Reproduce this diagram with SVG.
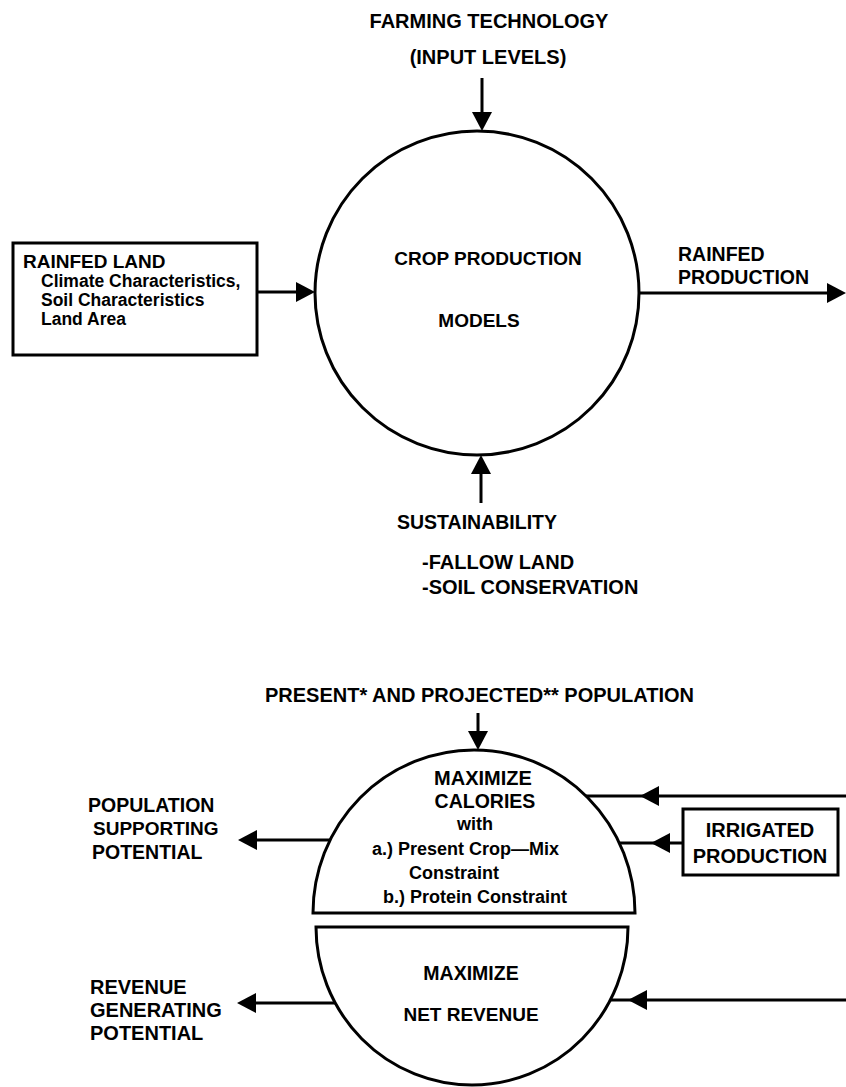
<svg xmlns="http://www.w3.org/2000/svg" xmlns:xlink="http://www.w3.org/1999/xlink" width="846" height="1087" viewBox="0 0 846 1087">
<style>
  text { font-family: "Liberation Sans", Arial, sans-serif; font-weight: bold; fill: #000; }
  .shape { fill: #fff; stroke: #000; stroke-width: 3; }
  .ln { stroke: #000; stroke-width: 3; fill: none; }
  .c { text-anchor: middle; }
</style>
<defs>
  <path id="ah" d="M0,0 L-19,-10 L-19,10 Z" fill="#000"/>
</defs>
<rect width="846" height="1087" fill="#fff"/>

<g id="farming-technology">
  <text x="489" y="28" font-size="20" class="c">FARMING TECHNOLOGY</text>
  <text x="488" y="64" font-size="20" class="c">(INPUT LEVELS)</text>
</g>

<g id="crop-production-models">
  <circle cx="477" cy="293" r="162" class="shape"/>
  <text x="488" y="265" font-size="19" class="c">CROP PRODUCTION</text>
  <text x="479" y="327" font-size="19" class="c">MODELS</text>
</g>

<g id="rainfed-land">
  <rect x="13" y="243" width="244" height="112" class="shape"/>
  <text x="23" y="268" font-size="19">RAINFED LAND</text>
  <text x="41" y="287" font-size="17.5">Climate Characteristics,</text>
  <text x="41" y="306" font-size="17.5">Soil Characteristics</text>
  <text x="41" y="325" font-size="17.5">Land Area</text>
</g>

<g id="rainfed-production">
  <text x="678" y="261" font-size="19.5">RAINFED</text>
  <text x="678" y="284" font-size="19.5">PRODUCTION</text>
</g>

<g id="sustainability">
  <text x="397" y="529" font-size="19.5">SUSTAINABILITY</text>
  <text x="422" y="569" font-size="20">-FALLOW LAND</text>
  <text x="422" y="594" font-size="20">-SOIL CONSERVATION</text>
</g>

<g id="population">
  <text x="265" y="702" font-size="20">PRESENT* AND PROJECTED** POPULATION</text>
</g>

<g id="maximize-calories">
  <path d="M313,913 A161,163 0 0 1 635,913 Z" class="shape"/>
  <text x="483" y="785" font-size="20" class="c">MAXIMIZE</text>
  <text x="485" y="808" font-size="19.5" class="c">CALORIES</text>
  <text x="475" y="830" font-size="18" class="c">with</text>
  <text x="372" y="855" font-size="18">a.) Present Crop—Mix</text>
  <text x="409" y="879" font-size="18">Constraint</text>
  <text x="383" y="903" font-size="18">b.) Protein Constraint</text>
</g>

<g id="maximize-net-revenue">
  <path d="M316,927 L628,927 A156,158 0 0 1 316,927 Z" class="shape"/>
  <text x="471" y="980" font-size="19.5" class="c">MAXIMIZE</text>
  <text x="471" y="1021" font-size="19" class="c">NET REVENUE</text>
</g>

<g id="population-supporting-potential">
  <text x="88" y="812" font-size="19.5">POPULATION</text>
  <text x="93" y="835" font-size="19">SUPPORTING</text>
  <text x="92" y="859" font-size="19.5">POTENTIAL</text>
</g>

<g id="revenue-generating-potential">
  <text x="90" y="994" font-size="20">REVENUE</text>
  <text x="90" y="1017" font-size="20">GENERATING</text>
  <text x="90" y="1040" font-size="20">POTENTIAL</text>
</g>

<g id="irrigated-production">
  <rect x="683" y="809" width="155" height="66" class="shape"/>
  <text x="760" y="837" font-size="20" class="c">IRRIGATED</text>
  <text x="760" y="863" font-size="20" class="c">PRODUCTION</text>
</g>

<g id="connectors">
  <line x1="482" y1="78" x2="482" y2="116" class="ln"/>
  <use xlink:href="#ah" transform="translate(482,131) rotate(90)"/>

  <line x1="257" y1="292" x2="300" y2="292" class="ln"/>
  <use xlink:href="#ah" transform="translate(315,292)"/>

  <line x1="639" y1="293" x2="830" y2="293" class="ln"/>
  <use xlink:href="#ah" transform="translate(846,293)"/>

  <line x1="481" y1="503" x2="481" y2="470" class="ln"/>
  <use xlink:href="#ah" transform="translate(481,455) rotate(-90)"/>

  <line x1="478" y1="713" x2="478" y2="735" class="ln"/>
  <use xlink:href="#ah" transform="translate(478,750) rotate(90)"/>

  <line x1="330" y1="840" x2="252" y2="840" class="ln"/>
  <use xlink:href="#ah" transform="translate(238,840) rotate(180)"/>

  <line x1="335" y1="1003" x2="252" y2="1003" class="ln"/>
  <use xlink:href="#ah" transform="translate(237,1003) rotate(180)"/>

  <line x1="846" y1="796" x2="586" y2="796" class="ln"/>
  <use xlink:href="#ah" transform="translate(640,796) rotate(180)"/>

  <line x1="683" y1="843" x2="619" y2="843" class="ln"/>
  <use xlink:href="#ah" transform="translate(651,843) rotate(180)"/>

  <line x1="846" y1="1000" x2="610" y2="1000" class="ln"/>
  <use xlink:href="#ah" transform="translate(628,1000) rotate(180)"/>
</g>
</svg>
